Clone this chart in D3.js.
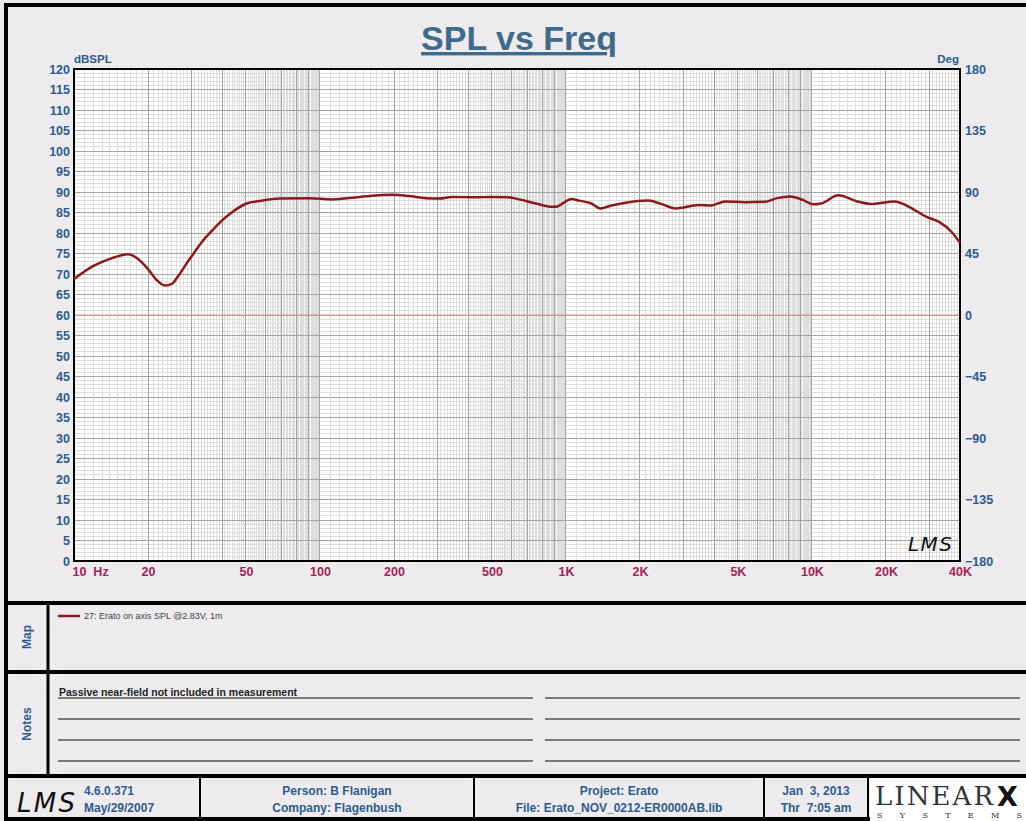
<!DOCTYPE html>
<html>
<head>
<meta charset="utf-8">
<script src="https://cdn.jsdelivr.net/npm/d3@7"></script>
<style>
  body { margin: 0; background: #eeebee; }
  svg { display: block; font-family: "Liberation Sans", Arial, sans-serif; }
</style>
</head>
<body>
<div id="chart"></div>
<script>
// Curve data (Hz, dBSPL)
const freqs = [10, 12, 14, 16.6, 18, 19.8, 21.7, 23.4, 25, 26.4, 28.7, 30.4, 33.3, 36.6, 40.2, 44.2, 50.3, 56.8, 68.5, 90.5,
  112, 145, 197, 230, 270, 306, 345, 430, 500, 586, 645, 755, 880, 910, 1055, 1130, 1270, 1380, 1530, 1750,
  2160, 2440, 2790, 3470, 3900, 4430, 5320, 6420, 7220, 8160, 9230, 10100, 10900, 12800, 15300, 17300,
  21700, 24800, 29100, 32900, 36900, 40000];
const spl = [68.8, 72.0, 73.7, 74.8, 73.9, 71.5, 68.5, 67.2, 67.6, 69.3, 72.6, 74.7, 78.0, 80.7, 83.2, 85.2, 87.2, 87.8, 88.4, 88.5,
  88.2, 88.8, 89.3, 89.0, 88.5, 88.4, 88.8, 88.7, 88.8, 88.7, 88.2, 87.2, 86.4, 86.4, 88.3, 87.9, 87.2, 86.0, 86.7, 87.4,
  87.9, 87.1, 86.0, 86.8, 86.7, 87.7, 87.5, 87.6, 88.5, 88.9, 88.0, 87.0, 87.2, 89.2, 87.7, 87.1,
  87.7, 86.4, 84.0, 82.7, 80.3, 77.6];

// Axis ticks
const dbTicks = d3.range(0, 121, 5);
const degTicks = [-180, -135, -90, -45, 0, 45, 90, 135, 180];
const freqTicks = [10, 20, 50, 100, 200, 500, 1000, 2000, 5000, 10000, 20000, 40000];
const freqLabels = ['10\u00a0\u00a0Hz', '20', '50', '100', '200', '500', '1K', '2K', '5K', '10K', '20K', '40K'];

// Panel texts
const legendText = '27: Erato on axis SPL @2.83V, 1m';
const noteText = 'Passive near-field not included in measurement';
const footerVersion = ['4.6.0.371', 'May/29/2007'];
const footerPerson = ['Person: B Flanigan', 'Company: Flagenbush'];
const footerProject = ['Project: Erato', 'File: Erato_NOV_0212-ER0000AB.lib'];
const footerDate = ['Jan  3, 2013', 'Thr  7:05 am'];

const W = 1026, H = 821;
const blue = '#2d5b8c', crimson = '#a3225a', curveColor = '#8b1a1a';
const plot = { left: 74, right: 960, top: 69, bottom: 561 };

const svg = d3.select('#chart').append('svg')
  .attr('width', W)
  .attr('height', H);

svg.append('rect').attr('width', W).attr('height', H).attr('fill', '#eeebee');

// Scales
const x = d3.scaleLog().domain([10, 40000]).range([plot.left, plot.right]);
const y = d3.scaleLinear().domain([0, 120]).range([plot.bottom, plot.top]);
const yDeg = d3.scaleLinear().domain([-180, 180]).range([plot.bottom, plot.top]);

// Plot background
svg.append('rect')
  .attr('x', plot.left).attr('y', plot.top)
  .attr('width', plot.right - plot.left).attr('height', plot.bottom - plot.top)
  .attr('fill', '#fff');

// Grid lines
const minorF = [], majorF = [];
[10, 100, 1000, 10000].forEach(d => {
  for (let n = 1; n <= 9; n++) {
    for (let k = 0; k < 10; k++) {
      const f = (n + k / 10) * d;
      if (f > 40000) continue;
      if (k === 0) majorF.push(f); else minorF.push(f);
    }
  }
});
const minorDb = d3.range(0, 121).filter(v => v % 5 !== 0);

const grid = svg.append('g').attr('shape-rendering', 'crispEdges');
grid.selectAll('.vminor').data(minorF).join('line')
  .attr('x1', d => x(d)).attr('x2', d => x(d))
  .attr('y1', plot.top).attr('y2', plot.bottom)
  .attr('stroke', '#dedede').attr('stroke-width', 1);
grid.selectAll('.hminor').data(minorDb).join('line')
  .attr('x1', plot.left).attr('x2', plot.right)
  .attr('y1', d => y(d)).attr('y2', d => y(d))
  .attr('stroke', '#dedede').attr('stroke-width', 1);
grid.selectAll('.vmajor').data(majorF).join('line')
  .attr('x1', d => x(d)).attr('x2', d => x(d))
  .attr('y1', plot.top).attr('y2', plot.bottom)
  .attr('stroke', '#a4a4a4').attr('stroke-width', 1);
grid.selectAll('.hmajor').data(dbTicks).join('line')
  .attr('x1', plot.left).attr('x2', plot.right)
  .attr('y1', d => y(d)).attr('y2', d => y(d))
  .attr('stroke', '#a4a4a4').attr('stroke-width', 1);

// 0 deg reference line
svg.append('line')
  .attr('x1', plot.left).attr('x2', plot.right)
  .attr('y1', yDeg(0)).attr('y2', yDeg(0))
  .attr('stroke', '#e89090').attr('stroke-width', 1);

// Plot border
svg.append('rect')
  .attr('x', plot.left).attr('y', plot.top)
  .attr('width', plot.right - plot.left).attr('height', plot.bottom - plot.top)
  .attr('fill', 'none').attr('stroke', '#000').attr('stroke-width', 2);

// Curve
const line = d3.line()
  .x((d, i) => x(freqs[i]))
  .y(d => y(d))
  .curve(d3.curveMonotoneX);
svg.append('path')
  .datum(spl)
  .attr('d', line)
  .attr('fill', 'none')
  .attr('stroke', curveColor)
  .attr('stroke-width', 2.5)
  .attr('stroke-linejoin', 'round');

// Axes (labels only, lines handled by the grid)
const leftAxis = svg.append('g')
  .attr('transform', `translate(${plot.left},0)`)
  .call(d3.axisLeft(y).tickValues(dbTicks).tickSize(0).tickPadding(4));
const rightAxis = svg.append('g')
  .attr('transform', `translate(${plot.right},0)`)
  .call(d3.axisRight(yDeg).tickValues(degTicks).tickSize(0).tickPadding(5));
const bottomAxis = svg.append('g')
  .attr('transform', `translate(0,${plot.bottom})`)
  .call(d3.axisBottom(x).tickValues(freqTicks).tickFormat((d, i) => freqLabels[i]).tickSize(0).tickPadding(6));

[leftAxis, rightAxis, bottomAxis].forEach(a => a.select('.domain').remove());
leftAxis.selectAll('text').attr('fill', blue).attr('font-size', 12.5).attr('font-weight', 'bold').attr('font-family', '"Liberation Sans", Arial, sans-serif');
rightAxis.selectAll('text').attr('fill', blue).attr('font-size', 12.5).attr('font-weight', 'bold').attr('font-family', '"Liberation Sans", Arial, sans-serif');
bottomAxis.selectAll('text').attr('fill', crimson).attr('font-size', 12.5).attr('font-weight', 'bold').attr('font-family', '"Liberation Sans", Arial, sans-serif');
bottomAxis.selectAll('.tick text').filter((d, i) => i === 0).attr('text-anchor', 'start').attr('x', -2);

svg.append('text').attr('x', plot.left).attr('y', 63)
  .attr('fill', blue).attr('font-size', 11.5).attr('font-weight', 'bold').text('dBSPL');
svg.append('text').attr('x', plot.right - 1).attr('y', 63).attr('text-anchor', 'end')
  .attr('fill', blue).attr('font-size', 11.5).attr('font-weight', 'bold').text('Deg');

// Title
svg.append('text')
  .attr('x', 519).attr('y', 50)
  .attr('text-anchor', 'middle')
  .attr('fill', '#3f6a8a')
  .attr('font-size', 34)
  .attr('font-weight', 'bold')
  .attr('text-decoration', 'underline')
  .text('SPL vs Freq');

// LMS signature inside plot
svg.append('text')
  .attr('x', 908).attr('y', 551)
  .attr('font-family', '"DejaVu Sans", sans-serif')
  .attr('font-style', 'italic')
  .attr('font-size', 20)
  .attr('fill', '#111')
  .attr('textLength', 44)
  .text('LMS');

// Panel frame lines
const frame = svg.append('g').attr('fill', 'none').attr('stroke', '#000');
frame.append('rect').attr('x', 6).attr('y', 5).attr('width', W + 10).attr('height', H - 7).attr('stroke-width', 4);
frame.append('line').attr('x1', 6).attr('x2', W).attr('y1', 603).attr('y2', 603).attr('stroke-width', 4);
frame.append('line').attr('x1', 6).attr('x2', W).attr('y1', 672).attr('y2', 672).attr('stroke-width', 4);
frame.append('line').attr('x1', 6).attr('x2', W).attr('y1', 776).attr('y2', 776).attr('stroke-width', 4);
frame.append('line').attr('x1', 48).attr('x2', 48).attr('y1', 603).attr('y2', 776).attr('stroke-width', 3);
[200, 474, 764, 868].forEach(xx => {
  frame.append('line').attr('x1', xx).attr('x2', xx).attr('y1', 776).attr('y2', H).attr('stroke-width', 2);
});

// Side labels
svg.append('text').attr('transform', 'translate(31,637) rotate(-90)')
  .attr('text-anchor', 'middle').attr('fill', blue).attr('font-size', 12).attr('font-weight', 'bold').text('Map');
svg.append('text').attr('transform', 'translate(31,724) rotate(-90)')
  .attr('text-anchor', 'middle').attr('fill', blue).attr('font-size', 12).attr('font-weight', 'bold').text('Notes');

// Legend
svg.append('line').attr('x1', 58).attr('x2', 80).attr('y1', 616).attr('y2', 616)
  .attr('stroke', curveColor).attr('stroke-width', 2.5);
svg.append('text').attr('x', 84).attr('y', 619)
  .attr('fill', '#444').attr('font-size', 9).text(legendText);

// Notes lines
const noteRows = [698, 719, 740, 761];
const notes = svg.append('g').attr('stroke', '#555').attr('stroke-width', 1.5);
noteRows.forEach(r => {
  notes.append('line').attr('x1', 58).attr('x2', 533).attr('y1', r).attr('y2', r);
  notes.append('line').attr('x1', 545).attr('x2', 1020).attr('y1', r).attr('y2', r);
});
svg.append('text').attr('x', 59).attr('y', 696)
  .attr('fill', '#222').attr('font-size', 10.5).attr('font-weight', 'bold').text(noteText);

// Footer
const foot = svg.append('g').attr('fill', blue).attr('font-size', 12).attr('font-weight', 'bold');
svg.append('text')
  .attr('x', 17).attr('y', 812)
  .attr('font-family', '"DejaVu Sans", sans-serif')
  .attr('font-style', 'italic')
  .attr('font-size', 26)
  .attr('fill', '#111')
  .attr('textLength', 58)
  .text('LMS');
foot.append('text').attr('x', 84).attr('y', 795).text(footerVersion[0]);
foot.append('text').attr('x', 84).attr('y', 812).text(footerVersion[1]);
[[337, footerPerson], [619, footerProject], [816, footerDate]].forEach(([cx, lines]) => {
  lines.forEach((t, i) => {
    foot.append('text').attr('x', cx).attr('y', 795 + i * 17)
      .attr('text-anchor', 'middle').attr('xml:space', 'preserve').text(t);
  });
});

// LinearX logo
svg.append('rect').attr('x', 870).attr('y', 778).attr('width', 160).attr('height', 43).attr('fill', '#fff');
svg.append('text').attr('x', 875).attr('y', 805)
  .attr('font-family', '"DejaVu Serif", "Liberation Serif", serif')
  .attr('font-size', 26).attr('fill', '#333')
  .attr('textLength', 118)
  .text('LINEAR');
svg.append('text').attr('x', 997).attr('y', 806)
  .attr('font-family', '"DejaVu Sans", sans-serif')
  .attr('font-size', 27).attr('font-weight', 'bold').attr('fill', '#111')
  .text('X');
svg.append('text').attr('x', 877).attr('y', 818)
  .attr('font-family', '"DejaVu Serif", serif')
  .attr('font-size', 8).attr('fill', '#333')
  .attr('textLength', 145)
  .text('SYSTEMS');
</script>
</body>
</html>
